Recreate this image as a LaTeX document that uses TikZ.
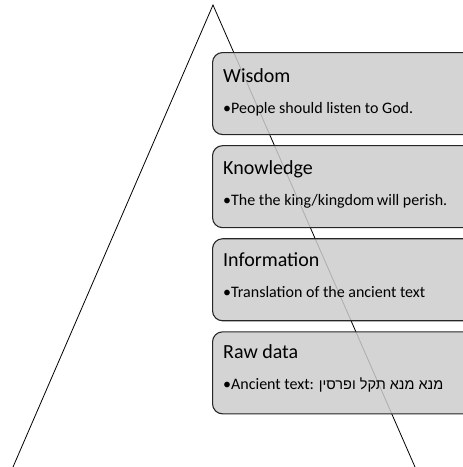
\documentclass[tikz,border=0pt]{standalone}
\usepackage{fontspec}
\setmainfont{Carlito}
\newfontfamily\hebfont[Script=Hebrew]{Liberation Sans}
\TeXXeTstate=1
\usetikzlibrary{positioning}

\begin{document}
\begin{tikzpicture}[
x=1pt, y=-1pt,
node distance=10pt,
level/.style={draw=black!85, line width=1.1pt, rounded corners=10pt, fill=gray!40, fill opacity=0.85, minimum width=262pt, minimum height=82pt, inner sep=0pt},
head/.style={font=\fontsize{20}{24}\selectfont, inner sep=0pt, anchor=base west},
item/.style={font=\fontsize{16}{19}\selectfont, inner sep=0pt, anchor=base west},
side/.style={line width=0.8pt}
]
\useasboundingbox (0,0) rectangle (463,467);
\clip (0,0) rectangle (463,467);
% the pyramid
\coordinate (top) at (213,5);
\coordinate (lft) at (13,467);
\coordinate (rgt) at (415,467);
\draw[side] (lft) -- (top) -- (rgt);
% the four levels
\node[level, anchor=north west] (wis) at (212,52) {};
\node[level, below=of wis] (kno) {};
\node[level, below=of kno] (inf) {};
\node[level, below=of inf] (raw) {};
% texts
\node[head] (wist) at (223,82) {Wisdom};
\node[item] (wisb) at (223,113) {•People should listen to God.};
\node[head] (knot) at (223,174) {Knowledge};
\node[item] (knob) at (223,205) {•The the king/kingdom\,will perish.};
\node[head] (inft) at (223,266) {Information};
\node[item] (infb) at (223,297) {•Translation of the ancient text};
\node[head] (rawt) at (223,358) {Raw data};
\node[item] (rawb) at (223,389) {•Ancient text: {\hebfont\fontsize{14.5}{17}\selectfont\beginR מנא מנא תקל ופרסין\endR}};
\end{tikzpicture}
\end{document}
